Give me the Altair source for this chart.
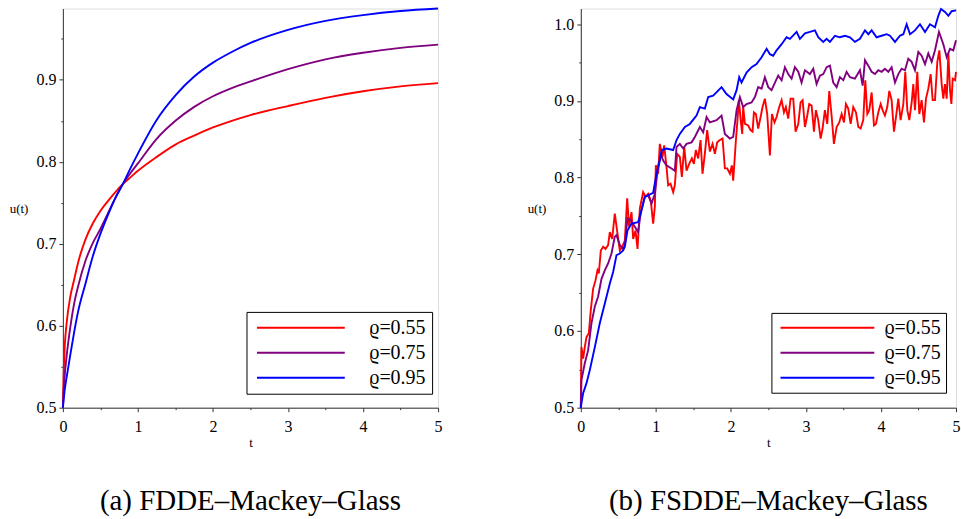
import altair as alt
import pandas as pd

SERIES = ["ϱ=0.55", "ϱ=0.75", "ϱ=0.95"]
COLORS = ["#ff0000", "#800080", "#0000ff"]

# ---------- (a) FDDE–Mackey–Glass ----------
t_a = [0, 0.01, 0.025, 0.05, 0.1, 0.15, 0.2, 0.3, 0.4, 0.5, 0.6, 0.7, 0.8, 0.9,
       1.0, 1.25, 1.5, 1.75, 2.0, 2.25, 2.5, 3.0, 3.5, 4.0, 4.5, 5.0]
u_a_055 = [0.5, 0.54, 0.575, 0.603, 0.636, 0.656, 0.676, 0.705, 0.725, 0.740, 0.752,
           0.763, 0.773, 0.781, 0.789, 0.806, 0.821, 0.832, 0.842, 0.850, 0.857,
           0.868, 0.878, 0.886, 0.892, 0.896]
u_a_075 = [0.5, 0.52, 0.54, 0.563, 0.599, 0.627, 0.647, 0.679, 0.701, 0.718, 0.737,
           0.756, 0.773, 0.786, 0.798, 0.828, 0.850, 0.867, 0.880, 0.890, 0.898,
           0.913, 0.925, 0.933, 0.939, 0.943]
u_a_095 = [0.5, 0.509, 0.522, 0.537, 0.565, 0.592, 0.616, 0.651, 0.685, 0.712, 0.735,
           0.756, 0.773, 0.792, 0.810, 0.851, 0.881, 0.904, 0.921, 0.934, 0.945,
           0.961, 0.972, 0.979, 0.984, 0.987]

# ---------- (b) FSDDE–Mackey–Glass ----------
b_055 = [(0, 0.5), (0.009, 0.579), (0.031, 0.564), (0.053, 0.579), (0.076, 0.592),
         (0.107, 0.597), (0.133, 0.627), (0.164, 0.655), (0.196, 0.666), (0.222, 0.679),
         (0.24, 0.675), (0.267, 0.705), (0.298, 0.710), (0.329, 0.707), (0.364, 0.712),
         (0.387, 0.729), (0.418, 0.720), (0.453, 0.753), (0.489, 0.727), (0.52, 0.705),
         (0.551, 0.710), (0.587, 0.718), (0.618, 0.773), (0.644, 0.736), (0.676, 0.755),
         (0.698, 0.720), (0.729, 0.731), (0.756, 0.707), (0.787, 0.760), (0.831, 0.781),
         (0.862, 0.775), (0.898, 0.779), (0.933, 0.770), (0.964, 0.740), (0.987, 0.762),
         (1.0, 0.816), (1.031, 0.805), (1.053, 0.844), (1.089, 0.827), (1.111, 0.842),
         (1.142, 0.814), (1.164, 0.790), (1.196, 0.792), (1.231, 0.781), (1.253, 0.790),
         (1.284, 0.831), (1.32, 0.827), (1.347, 0.801), (1.378, 0.840), (1.409, 0.809),
         (1.444, 0.818), (1.48, 0.825), (1.507, 0.818), (1.533, 0.836), (1.564, 0.825),
         (1.596, 0.849), (1.622, 0.805), (1.653, 0.831), (1.684, 0.862), (1.72, 0.834),
         (1.756, 0.844), (1.787, 0.831), (1.818, 0.846), (1.853, 0.849), (1.889, 0.851),
         (1.92, 0.812), (1.951, 0.812), (1.987, 0.805), (2.013, 0.816), (2.031, 0.796),
         (2.067, 0.849), (2.084, 0.870), (2.107, 0.901), (2.129, 0.877), (2.151, 0.857),
         (2.164, 0.892), (2.187, 0.870), (2.231, 0.868), (2.262, 0.862), (2.289, 0.860),
         (2.307, 0.885), (2.333, 0.883), (2.364, 0.864), (2.396, 0.879), (2.422, 0.892),
         (2.453, 0.903), (2.484, 0.883), (2.52, 0.829), (2.547, 0.883), (2.582, 0.872),
         (2.609, 0.879), (2.644, 0.892), (2.676, 0.901), (2.707, 0.885), (2.733, 0.892),
         (2.764, 0.877), (2.796, 0.903), (2.831, 0.903), (2.862, 0.860), (2.898, 0.870),
         (2.929, 0.898), (2.956, 0.901), (2.987, 0.866), (3.018, 0.881), (3.044, 0.896),
         (3.076, 0.894), (3.107, 0.860), (3.133, 0.888), (3.164, 0.875), (3.196, 0.851),
         (3.222, 0.864), (3.253, 0.888), (3.284, 0.870), (3.311, 0.913), (3.342, 0.881),
         (3.373, 0.844), (3.409, 0.866), (3.444, 0.872), (3.476, 0.883), (3.507, 0.872),
         (3.533, 0.896), (3.564, 0.890), (3.596, 0.870), (3.631, 0.892), (3.667, 0.885),
         (3.698, 0.866), (3.729, 0.864), (3.764, 0.875), (3.791, 0.927), (3.818, 0.883),
         (3.844, 0.888), (3.876, 0.911), (3.907, 0.868), (3.933, 0.870), (3.964, 0.885),
         (3.996, 0.896), (4.022, 0.888), (4.053, 0.881), (4.084, 0.892), (4.111, 0.913),
         (4.142, 0.901), (4.173, 0.860), (4.2, 0.879), (4.231, 0.903), (4.262, 0.875),
         (4.298, 0.896), (4.324, 0.938), (4.351, 0.888), (4.378, 0.875), (4.409, 0.898),
         (4.431, 0.922), (4.453, 0.888), (4.484, 0.938), (4.511, 0.883), (4.542, 0.901),
         (4.573, 0.872), (4.6, 0.903), (4.631, 0.916), (4.662, 0.935), (4.689, 0.901),
         (4.72, 0.901), (4.751, 0.951), (4.778, 0.966), (4.809, 0.922), (4.831, 0.903),
         (4.853, 0.922), (4.876, 0.903), (4.898, 0.962), (4.92, 0.914), (4.938, 0.896),
         (4.956, 0.929), (4.987, 0.927), (5.0, 0.938)]

b_075 = [(0, 0.5), (0.009, 0.536), (0.053, 0.558), (0.098, 0.575), (0.142, 0.610),
         (0.187, 0.632), (0.231, 0.645), (0.276, 0.668), (0.32, 0.679), (0.364, 0.688),
         (0.409, 0.701), (0.453, 0.723), (0.476, 0.725), (0.52, 0.712), (0.564, 0.707),
         (0.587, 0.712), (0.622, 0.747), (0.667, 0.744), (0.72, 0.736), (0.764, 0.729),
         (0.8, 0.755), (0.853, 0.775), (0.898, 0.777), (0.942, 0.766), (0.987, 0.779),
         (1.031, 0.815), (1.067, 0.830), (1.1, 0.822), (1.142, 0.816), (1.209, 0.812),
         (1.253, 0.809), (1.276, 0.840), (1.32, 0.844), (1.364, 0.838), (1.409, 0.844),
         (1.476, 0.846), (1.52, 0.853), (1.587, 0.866), (1.631, 0.859), (1.676, 0.879),
         (1.72, 0.872), (1.809, 0.875), (1.876, 0.881), (1.92, 0.857), (1.987, 0.851),
         (2.031, 0.853), (2.076, 0.888), (2.12, 0.905), (2.164, 0.892), (2.209, 0.896),
         (2.276, 0.898), (2.32, 0.905), (2.364, 0.918), (2.409, 0.916), (2.453, 0.931),
         (2.498, 0.918), (2.542, 0.914), (2.587, 0.924), (2.631, 0.933), (2.676, 0.927),
         (2.72, 0.944), (2.764, 0.935), (2.809, 0.929), (2.853, 0.944), (2.898, 0.938),
         (2.942, 0.924), (2.987, 0.940), (3.053, 0.935), (3.098, 0.942), (3.142, 0.922),
         (3.187, 0.933), (3.231, 0.935), (3.276, 0.944), (3.32, 0.946), (3.364, 0.924),
         (3.409, 0.918), (3.453, 0.931), (3.498, 0.927), (3.542, 0.938), (3.587, 0.931),
         (3.653, 0.929), (3.72, 0.940), (3.756, 0.920), (3.787, 0.953), (3.831, 0.946),
         (3.876, 0.938), (3.92, 0.935), (3.964, 0.940), (4.009, 0.938), (4.053, 0.942),
         (4.098, 0.938), (4.142, 0.944), (4.187, 0.924), (4.231, 0.935), (4.276, 0.942),
         (4.32, 0.940), (4.364, 0.955), (4.409, 0.951), (4.453, 0.940), (4.498, 0.964),
         (4.542, 0.959), (4.587, 0.948), (4.631, 0.962), (4.676, 0.951), (4.72, 0.966),
         (4.773, 0.990), (4.831, 0.974), (4.876, 0.957), (4.92, 0.968), (4.964, 0.966),
         (5.0, 0.979)]

b_095 = [(0, 0.5), (0.031, 0.519), (0.076, 0.532), (0.12, 0.549), (0.187, 0.579),
         (0.253, 0.610), (0.32, 0.636), (0.387, 0.662), (0.431, 0.677), (0.476, 0.699),
         (0.52, 0.701), (0.564, 0.705), (0.587, 0.710), (0.622, 0.731), (0.676, 0.740),
         (0.764, 0.742), (0.809, 0.757), (0.853, 0.775), (0.964, 0.780), (1.009, 0.805),
         (1.053, 0.822), (1.08, 0.836), (1.142, 0.838), (1.231, 0.836), (1.276, 0.849),
         (1.32, 0.857), (1.387, 0.866), (1.453, 0.870), (1.542, 0.881), (1.587, 0.892),
         (1.653, 0.890), (1.698, 0.905), (1.764, 0.907), (1.876, 0.918), (1.942, 0.909),
         (2.031, 0.902), (2.076, 0.914), (2.111, 0.931), (2.142, 0.924), (2.209, 0.937),
         (2.276, 0.944), (2.342, 0.948), (2.409, 0.957), (2.476, 0.968), (2.52, 0.961),
         (2.564, 0.959), (2.609, 0.966), (2.676, 0.974), (2.742, 0.983), (2.787, 0.981),
         (2.876, 0.990), (2.92, 0.981), (2.987, 0.988), (3.053, 0.990), (3.12, 0.992),
         (3.164, 0.983), (3.231, 0.977), (3.276, 0.981), (3.32, 0.977), (3.387, 0.985),
         (3.453, 0.983), (3.52, 0.985), (3.587, 0.983), (3.653, 0.977), (3.72, 0.981),
         (3.787, 0.992), (3.831, 0.987), (3.876, 0.992), (3.942, 0.983), (4.009, 0.985),
         (4.076, 0.987), (4.12, 0.985), (4.187, 0.977), (4.253, 0.985), (4.298, 0.987),
         (4.342, 1.0), (4.387, 0.987), (4.453, 0.992), (4.52, 1.0), (4.587, 0.990),
         (4.653, 1.0), (4.72, 0.996), (4.764, 1.011), (4.8, 1.020), (4.853, 1.016),
         (4.898, 1.011), (4.942, 1.017), (5.0, 1.018)]

x_ticks = [i * 0.5 for i in range(11)]
y_ticks_a = [0.5 + i * 0.05 for i in range(10)]
y_ticks_b = [0.5 + i * 0.05 for i in range(11)]

# ---------- tables ----------
rows_a = []
for name, vals in zip(SERIES, [u_a_055, u_a_075, u_a_095]):
    for t, u in zip(t_a, vals):
        rows_a.append({"t": t, "u": u, "series": name})
df_a = pd.DataFrame(rows_a)

rows_b = []
for name, pts in zip(SERIES, [b_055, b_075, b_095]):
    for t, u in pts:
        rows_b.append({"t": t, "u": u, "series": name})
df_b = pd.DataFrame(rows_b)

FONT = "Liberation Serif"


def x_axis():
    return alt.Axis(
        values=x_ticks, title="t", titleFont=FONT, titleFontSize=13,
        titleFontWeight="normal", titlePadding=2,
        labelExpr="round(datum.value*2) % 2 == 0 ? format(datum.value, 'd') : ''",
        labelFont=FONT, labelFontSize=16, labelFlush=False, labelOverlap=False,
        labelPadding=7, grid=False, domainColor="#333333", tickColor="#333333",
        tickSize={"condition": {"test": "round(datum.value*2) % 2 == 1", "value": 2}, "value": 4},
    )


def y_axis(vals):
    return alt.Axis(
        values=vals, title="u(t)", titleAngle=0, titleAlign="right",
        titleBaseline="middle", titleFont=FONT, titleFontSize=13,
        titleFontWeight="normal", titlePadding=8,
        labelExpr="round(datum.value*20) % 2 == 0 ? format(datum.value, '.1f') : ''",
        labelFont=FONT, labelFontSize=16, labelFlush=False, labelOverlap=False,
        labelPadding=3, grid=False, domainColor="#333333", tickColor="#333333",
        tickSize={"condition": {"test": "round(datum.value*20) % 2 == 1", "value": 2}, "value": 4},
    )


def legend(lx, ly, sym, gap, pad):
    # wide horizontal stroke symbol: path spans 8x the nominal symbol size
    base = sym / 8.0
    shift = sym / 2 - base / 2
    return alt.Legend(
        orient="none", legendX=lx, legendY=ly, title=None,
        symbolType="M-8,0H8", symbolSize=base * base, symbolStrokeWidth=2,
        symbolOffset=shift,
        labelFont=FONT, labelFontSize=20, labelOffset=sym - base - shift + gap,
        labelLimit=0, strokeColor="black", fillColor="white", padding=pad, rowPadding=5,
    )


def panel(df, ymax, yticks, leg, caption, interp):
    return alt.Chart(df).mark_line(strokeWidth=1.9, interpolate=interp).encode(
        x=alt.X("t:Q", scale=alt.Scale(domain=[0, 5], nice=False, zero=False), axis=x_axis()),
        y=alt.Y("u:Q", scale=alt.Scale(domain=[0.5, ymax], nice=False, zero=False), axis=y_axis(yticks)),
        color=alt.Color("series:N", scale=alt.Scale(domain=SERIES, range=COLORS), legend=leg),
    ).properties(
        width=376, height=400,
        title=alt.TitleParams(caption, orient="bottom", font=FONT, fontSize=29,
                              fontWeight="normal", offset=38, anchor="middle",
                              frame="group", color="black"),
    )


left = panel(df_a, 0.987, y_ticks_a, legend(184, 304, 88, 20, 6),
             "(a) FDDE–Mackey–Glass", "monotone")
right = panel(df_b, 1.0205, y_ticks_b, legend(191, 305, 94, 6, 5),
              "(b) FSDDE–Mackey–Glass", "linear")

chart = alt.hconcat(left, right, spacing=83).resolve_scale(
    color="independent"
).resolve_legend(color="independent").properties(
    padding={"left": 8, "top": 3, "right": 0, "bottom": 2}
).configure_view(stroke=None).configure(background="white")

chart.save("out.html", embed_options={"renderer": "svg", "actions": False})
